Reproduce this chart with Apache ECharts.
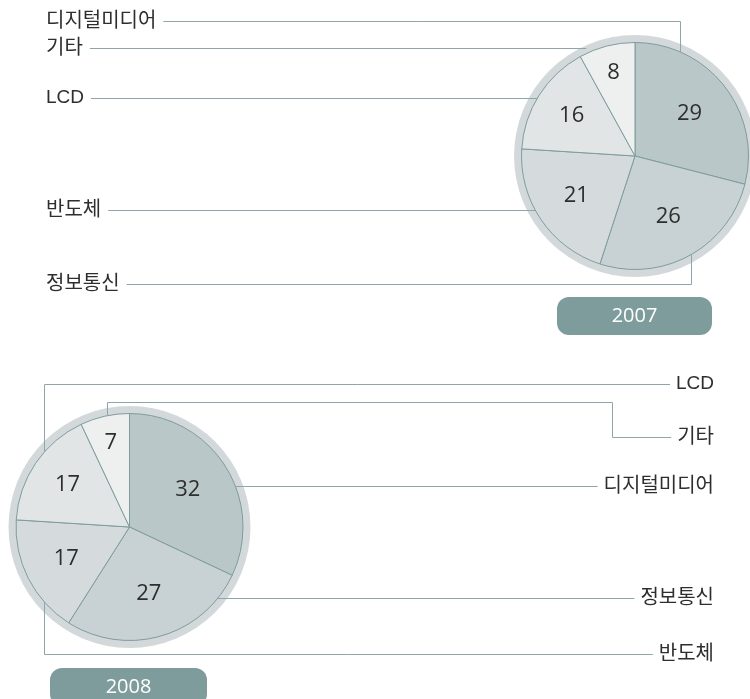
<!DOCTYPE html>
<html>
<head>
<meta charset="utf-8">
<script src="https://cdn.jsdelivr.net/npm/echarts@6/dist/echarts.min.js"></script>
<style>
  html, body { margin: 0; padding: 0; background: #ffffff; }
  #chart { width: 750px; height: 699px; }
</style>
</head>
<body>
<div id="chart"></div>
<script>
// Sector shares (%) by year
const years = ['2007', '2008'];
const categories = ['디지털미디어', '정보통신', '반도체', 'LCD', '기타'];
const share2007 = [29, 26, 21, 16, 8];
const share2008 = [32, 27, 17, 17, 7];

// Styling
const sliceColors = ['#b9c7c8', '#c8d1d3', '#d5dbdd', '#e1e5e6', '#eef0f0'];
const ringColor = '#d3d9da';
const edgeColor = '#7f9c9e';
const leaderColor = '#8ea6a8';
const badgeColor = '#7f9c9d';
const textColor = '#2e2e2e';
const nameFont = '"Liberation Sans", "Noto Sans CJK KR", sans-serif';
const numFont = '"Open Sans", "Noto Sans CJK KR", sans-serif';

const R = 113.5;       // slice radius
const RING = 121;      // outer ring radius
// distance of each value label from the centre, per category
const valueLabelR = [69, 69, 71, 75, 86];

// Latin names are set a little smaller than Hangul ones
function nameSize(str) { return /^[A-Za-z]+$/.test(str) ? 19 : 20; }

function pt(p, deg, r) {
  const a = deg * Math.PI / 180;
  return [p.cx + r * Math.sin(a), p.cy - r * Math.cos(a)];
}
function atY(p, y, side, r) {
  const dy = y - p.cy;
  return [p.cx + side * Math.sqrt(r * r - dy * dy), y];
}
function atX(p, x, vside, r) {
  const dx = x - p.cx;
  return [x, p.cy + vside * Math.sqrt(r * r - dx * dx)];
}

const pies = [
  {
    year: years[0], values: share2007, cx: 635, cy: 156,
    badge: { x: 557, y: 297, w: 155, h: 38 },
    textSide: 'left', textX: 46,
    leaders: {
      '디지털미디어': { y: 21, path: p => [[680.5, 21.5], atX(p, 680.5, -1, R)] },
      '기타':        { y: 48, path: p => [atY(p, 48.5, -1, 118)] },
      'LCD':         { y: 98, path: p => [atY(p, 98.5, -1, R)] },
      '반도체':      { y: 210, path: p => [atY(p, 210.5, -1, R)] },
      '정보통신':    { y: 284, path: p => [[691.5, 284.5], atX(p, 691.5, 1, R)] }
    }
  },
  {
    year: years[1], values: share2008, cx: 129.5, cy: 527,
    badge: { x: 50, y: 668, w: 157, h: 38 },
    textSide: 'right', textX: 714,
    leaders: {
      'LCD':         { y: 384, path: p => [[44.5, 384.5], atX(p, 44.5, -1, R)] },
      '기타':        { y: 437, path: p => [[612.5, 437.5], [612.5, 402.5], [107.5, 402.5], atX(p, 107.5, -1, R)] },
      '디지털미디어': { y: 486, path: p => [atY(p, 486.5, 1, R)] },
      '정보통신':    { y: 598, path: p => [atY(p, 598.5, 1, R)] },
      '반도체':      { y: 654, path: p => [[44.5, 654.5], atX(p, 44.5, 1, R)] }
    }
  }
];

const measureCtx = document.createElement('canvas').getContext('2d');
function textWidth(str, size, family) {
  measureCtx.font = size + 'px ' + family;
  return measureCtx.measureText(str).width;
}

const series = [];
const graphics = [];

pies.forEach(p => {
  // outer grey ring
  series.push({
    type: 'pie', silent: true, animation: false, z: 1,
    center: [p.cx, p.cy], radius: [0, RING],
    label: { show: false }, labelLine: { show: false },
    itemStyle: { color: ringColor, borderWidth: 0 },
    data: [{ value: 1, name: 'ring' }]
  });
  // slices
  series.push({
    type: 'pie', silent: true, animation: false, z: 2,
    center: [p.cx, p.cy], radius: [0, R], startAngle: 90, clockwise: true,
    label: { show: false }, labelLine: { show: false },
    itemStyle: { borderColor: edgeColor, borderWidth: 1 },
    data: categories.map((c, i) => ({
      name: c, value: p.values[i], itemStyle: { color: sliceColors[i] }
    }))
  });

  // value labels at each slice's mid-angle
  const total = p.values.reduce((a, b) => a + b, 0);
  let acc = 0;
  p.values.forEach((v, i) => {
    const mid = (acc + v / 2) / total * 360;
    acc += v;
    const [x, y] = pt(p, mid, valueLabelR[i]);
    graphics.push({
      type: 'text', z: 20, x: x, y: y,
      style: {
        text: String(v), fill: textColor, font: '22px ' + numFont,
        textAlign: 'center', textVerticalAlign: 'middle'
      }
    });
  });

  // category names and leader lines
  categories.forEach(c => {
    const L = p.leaders[c];
    const size = nameSize(c);
    const w = textWidth(c, size, nameFont);
    const left = p.textSide === 'left';
    graphics.push({
      type: 'text', z: 20, x: p.textX, y: L.y,
      style: {
        text: c, fill: textColor, font: size + 'px ' + nameFont,
        textAlign: left ? 'left' : 'right', textVerticalAlign: 'middle'
      }
    });
    const start = left ? [p.textX + w + 7, L.y + 0.5] : [p.textX - w - 6, L.y + 0.5];
    graphics.push({
      type: 'polyline', z: 15,
      shape: { points: [start].concat(L.path(p)) },
      style: { stroke: leaderColor, lineWidth: 1, fill: null }
    });
  });

  // year badge
  graphics.push({
    type: 'rect', z: 20,
    shape: { x: p.badge.x, y: p.badge.y, width: p.badge.w, height: p.badge.h, r: 12 },
    style: { fill: badgeColor }
  });
  graphics.push({
    type: 'text', z: 21, x: p.badge.x + p.badge.w / 2, y: p.badge.y + p.badge.h / 2,
    style: { text: p.year, fill: '#ffffff', font: '20px ' + numFont, textAlign: 'center', textVerticalAlign: 'middle' }
  });
});

const chart = echarts.init(document.getElementById('chart'), null, { renderer: 'canvas' });
chart.setOption({
  animation: false,
  backgroundColor: '#ffffff',
  series: series,
  graphic: { elements: graphics }
});
</script>
</body>
</html>
